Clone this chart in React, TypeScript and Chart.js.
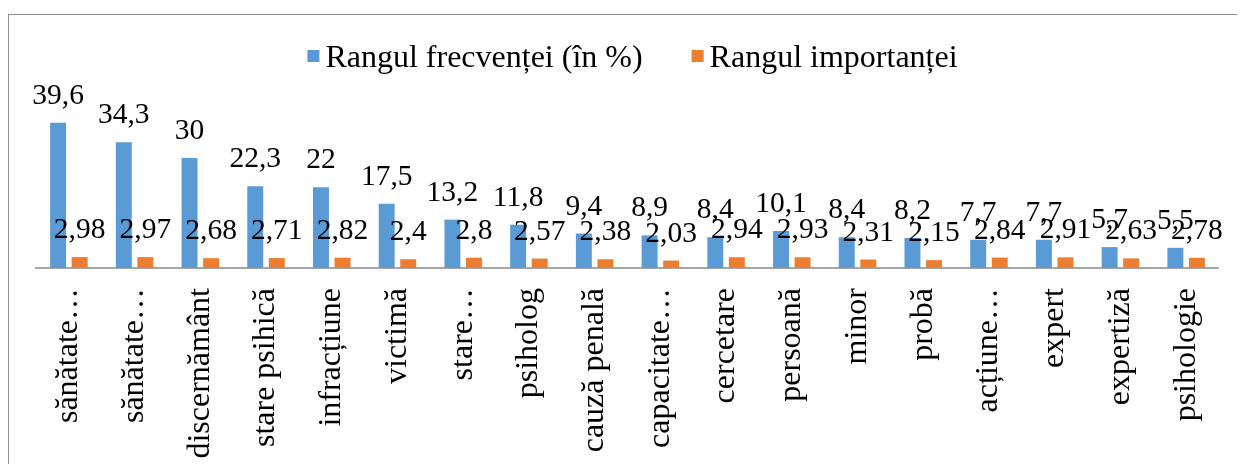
import React, { useEffect, useRef } from "react";
import { Chart, registerables } from "chart.js";

Chart.register(...registerables);

const categories = [
  "sănătate…",
  "sănătate…",
  "discernământ",
  "stare psihică",
  "infracțiune",
  "victimă",
  "stare…",
  "psiholog",
  "cauză penală",
  "capacitate…",
  "cercetare",
  "persoană",
  "minor",
  "probă",
  "acțiune…",
  "expert",
  "expertiză",
  "psihologie",
];

const frequencyRank = [39.6, 34.3, 30, 22.3, 22, 17.5, 13.2, 11.8, 9.4, 8.9, 8.4, 10.1, 8.4, 8.2, 7.7, 7.7, 5.7, 5.5];
const importanceRank = [2.98, 2.97, 2.68, 2.71, 2.82, 2.4, 2.8, 2.57, 2.38, 2.03, 2.94, 2.93, 2.31, 2.15, 2.84, 2.91, 2.63, 2.78];

const seriesNames = ["Rangul frecvenței (în %)", "Rangul importanței"];
const seriesColors = ["#5B9BD5", "#ED7D31"];

const FONT = '"Liberation Serif", "Times New Roman", serif';

const fmt = (v: number) => String(v).replace(".", ",");

const valueLabels = {
  id: "valueLabels",
  afterDatasetsDraw(chart: any) {
    const ctx = chart.ctx;
    ctx.save();
    ctx.font = `29.5px ${FONT}`;
    ctx.fillStyle = "#000";
    ctx.textAlign = "center";
    ctx.textBaseline = "alphabetic";
    chart.data.datasets.forEach((ds: any, i: number) => {
      const meta = chart.getDatasetMeta(i);
      meta.data.forEach((bar: any, j: number) => {
        ctx.fillText(fmt(ds.data[j]), bar.x, bar.y - 19);
      });
    });
    ctx.restore();
  },
};

const topLegend = {
  id: "topLegend",
  afterDraw(chart: any) {
    const ctx = chart.ctx;
    const ds = chart.data.datasets;
    ctx.save();
    ctx.font = `32px ${FONT}`;
    const box = 12;
    const gapText = 6;
    const gapItem = 49;
    const widths = ds.map((d: any) => ctx.measureText(d.label).width);
    const total =
      widths.reduce((a: number, w: number) => a + box + gapText + w, 0) + gapItem * (ds.length - 1);
    const area = chart.chartArea;
    let x = (area.left + area.right) / 2 + 5 - total / 2;
    const baseline = 52;
    ds.forEach((d: any, i: number) => {
      ctx.fillStyle = d.backgroundColor;
      ctx.fillRect(x, baseline - 17, box, box);
      ctx.fillStyle = "#000";
      ctx.textAlign = "left";
      ctx.textBaseline = "alphabetic";
      ctx.fillText(d.label, x + box + gapText, baseline);
      x += box + gapText + widths[i] + gapItem;
    });
    ctx.restore();
  },
};

export default function App() {
  const ref = useRef<HTMLCanvasElement | null>(null);

  useEffect(() => {
    document.documentElement.style.overflow = "hidden";
    const canvas = ref.current;
    if (!canvas) return;
    const chart = new Chart(canvas, {
      type: "bar",
      data: {
        labels: categories,
        datasets: [
          {
            label: seriesNames[0],
            data: frequencyRank,
            backgroundColor: seriesColors[0],
            borderWidth: 0,
            categoryPercentage: 0.656,
            barPercentage: 0.74,
          },
          {
            label: seriesNames[1],
            data: importanceRank,
            backgroundColor: seriesColors[1],
            borderWidth: 0,
            categoryPercentage: 0.656,
            barPercentage: 0.74,
          },
        ],
      },
      options: {
        responsive: false,
        animation: false,
        devicePixelRatio: 1,
        layout: { padding: { top: 88, left: 27, right: 17, bottom: 0 } },
        plugins: {
          legend: { display: false },
          tooltip: { enabled: false },
          title: { display: false },
        },
        scales: {
          x: {
            grid: { display: false, drawTicks: false },
            border: { display: true, color: "#a6a6a6", width: 2 },
            ticks: {
              font: { family: FONT, size: 32 },
              color: "#000",
              minRotation: 90,
              maxRotation: 90,
              autoSkip: false,
              padding: 20,
            },
            afterFit(scale: any) {
              scale.height = 202;
            },
          },
          y: {
            display: false,
            min: 0,
            max: 45,
          },
        },
      },
      plugins: [valueLabels, topLegend],
    });
    return () => chart.destroy();
  }, []);

  return (
    <div style={{ paddingTop: 6 }}>
      <div
        style={{
          borderTop: "1px solid #8e8e8e",
          borderLeft: "1px solid #8e8e8e",
          width: 1260,
          height: 470,
          background: "#fff",
        }}
      >
        <canvas ref={ref} width={1236} height={455} style={{ display: "block" }} />
      </div>
    </div>
  );
}
